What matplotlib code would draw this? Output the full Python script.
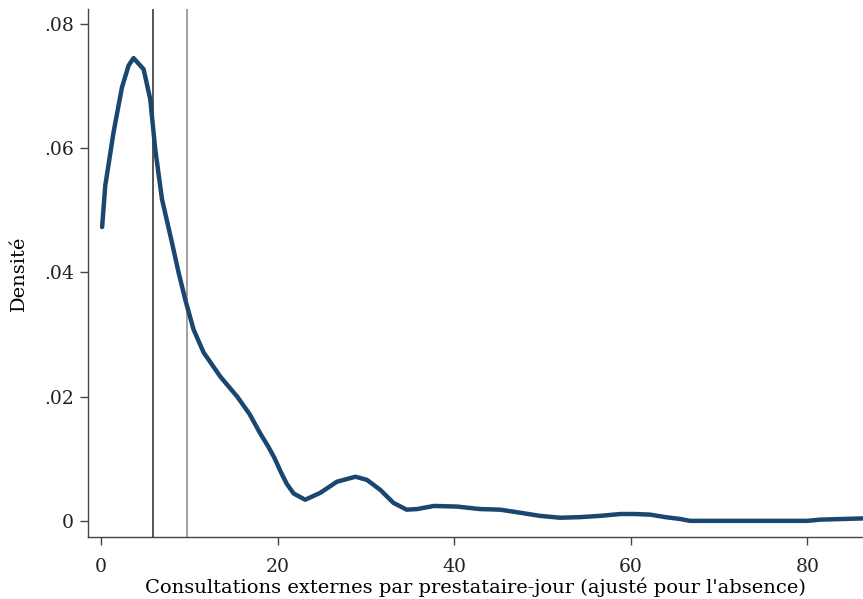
import numpy as np
import matplotlib
matplotlib.use("Agg")
import matplotlib.pyplot as plt

# density curve
x_vals = [0.1, 0.45, 1.4, 2.35, 3.1, 3.66, 4.8, 5.55, 6.12, 6.88, 8.01, 8.76,
          9.52, 10.46, 11.6, 13.5, 15.4, 16.8, 18.0, 18.9, 19.6, 20.3, 21.0,
          21.8, 23.1, 24.8, 26.7, 28.8, 30.1, 31.6, 33.1, 34.6, 35.8, 37.7,
          40.3, 42.9, 45.2, 47.5, 49.7, 52.0, 54.3, 56.5, 58.8, 60.5, 62.2,
          63.9, 65.6, 66.7, 70.0, 75.0, 80.0, 81.5, 84.0, 86.5]
dens = [0.0473, 0.0539, 0.0626, 0.0698, 0.0733, 0.0745, 0.0727, 0.0679, 0.0598,
        0.0518, 0.0448, 0.0400, 0.0356, 0.0308, 0.0271, 0.0232, 0.0200, 0.0172,
        0.0141, 0.0120, 0.0102, 0.0080, 0.0060, 0.0044, 0.0034, 0.0045, 0.0063,
        0.0071, 0.0066, 0.0050, 0.0029, 0.0018, 0.0019, 0.0024, 0.0023, 0.0019,
        0.0018, 0.0013, 0.0008, 0.0005, 0.0006, 0.0008, 0.0011, 0.0011, 0.0010,
        0.0006, 0.0003, 0.0, 0.0, 0.0, 0.0, 0.0002, 0.0003, 0.0004]

median_line = 5.9
mean_line = 9.75

yticks = [0, 0.02, 0.04, 0.06, 0.08]
ytick_labels = ["0", ".02", ".04", ".06", ".08"]
xticks = [0, 20, 40, 60, 80]

plt.rcParams['font.family'] = ['DejaVu Serif']

fig = plt.figure(figsize=(8.63, 5.99), dpi=100)
ax = fig.add_axes([88 / 863, 62 / 599, 1 - 88 / 863, (537 - 9) / 599])

ax.plot(x_vals, dens, color="#1a476f", lw=3.2, solid_capstyle="round",
        solid_joinstyle="round", zorder=3)
ax.axvline(median_line, color="#555555", lw=1.4, zorder=2)
ax.axvline(mean_line, color="#a0a0a0", lw=1.4, zorder=2)

ax.set_xlim(-1.5, 86.3)
ax.set_ylim(-0.0026, 0.0824)
ax.set_yticks(yticks)
ax.set_yticklabels(ytick_labels)
ax.set_xticks(xticks)

for s in ["top", "right"]:
    ax.spines[s].set_visible(False)
for s in ["left", "bottom"]:
    ax.spines[s].set_color("#444444")
    ax.spines[s].set_linewidth(1.0)

ax.tick_params(axis="both", colors="#222222", labelsize=13.5, length=6,
               width=1.0, color="#444444")
ax.tick_params(axis="y", pad=4)
ax.tick_params(axis="x", pad=9)

ax.set_ylabel("Densité", fontsize=14, labelpad=12)
ax.set_xlabel("Consultations externes par prestataire-jour (ajusté pour l'absence)",
              fontsize=14, labelpad=1)

fig.savefig("out.png", dpi=100)
